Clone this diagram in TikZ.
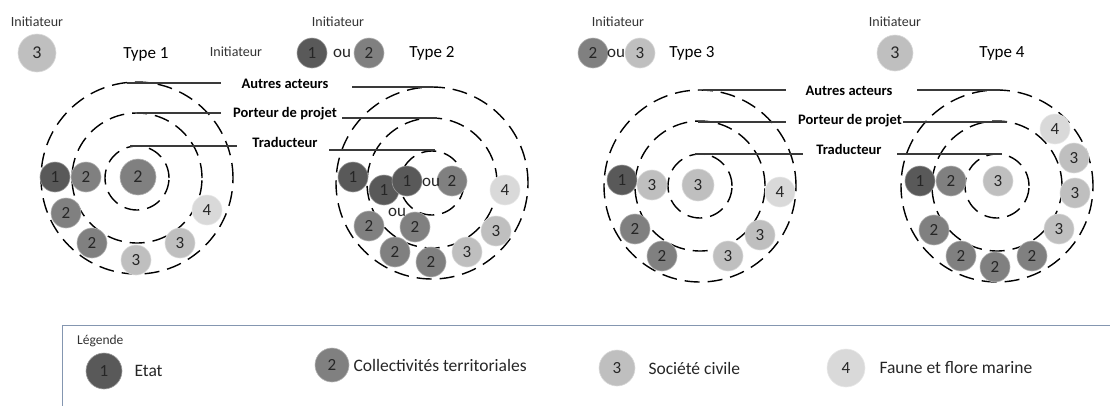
\documentclass[tikz,border=0pt]{standalone}
\usepackage{fontspec}
\setmainfont{Carlito}
\usepackage{tikz}
\usetikzlibrary{positioning}
\definecolor{actFill1}{HTML}{595959}
\definecolor{actFill2}{HTML}{808080}
\definecolor{actFill3}{HTML}{BFBFBF}
\definecolor{actFill4}{HTML}{D9D9D9}
\definecolor{roleGray}{HTML}{3A3A3A}
\definecolor{legendFrame}{HTML}{8496B0}
\tikzset{
  actor/.style={
    circle,
    fill=actFill#1,
    draw=actFill#1!60!white,
    line width=0.6pt,
    minimum size=30pt,
    inner sep=0pt,
    font=\fontsize{17}{17}\selectfont,
    text=black!85
  },
  ringLine/.style={black, line width=1.4pt, dash pattern=on 15pt off 8pt},
  roleLine/.style={roleGray, line width=1.2pt},
  roleLabel/.style={font=\bfseries\fontsize{14.5}{15}\selectfont, inner sep=0pt},
  typeLabel/.style={font=\fontsize{17}{18}\selectfont, inner sep=0pt},
  initLabel/.style={font=\fontsize{14}{15}\selectfont, text=black!80, inner sep=0pt},
  orLabel/.style={font=\fontsize{17}{17}\selectfont, text=black!85, inner sep=0pt},
  legendText/.style={font=\fontsize{17.5}{18}\selectfont, text=black!85, inner sep=0pt}
}

\begin{document}
\begin{tikzpicture}[x=1pt,y=-1pt]
  \useasboundingbox (0,0) rectangle (1110,405);
  \coordinate (ring1) at (137,178);
  \coordinate (ring2) at (432,183);
  \coordinate (ring3) at (700,186);
  \coordinate (ring4) at (997,186);
  \foreach \c in {ring1,ring2,ring3,ring4} {
    \foreach \r in {32,65,96} {
      \draw[ringLine] (\c) circle (\r pt);
    }
  }
  \node[initLabel] (init1) at (37,22) {Initiateur};
  \node[actor=3, minimum size=38pt, font=\fontsize{18}{18}\selectfont] (ini1) at (37,53) {3};
  \node[typeLabel] (type1) at (146,54) {Type 1};
  \node[initLabel] (init2b) at (236,52) {Initiateur};
  \node[initLabel] (init2) at (338,22) {Initiateur};
  \node[actor=1] (ini2a) at (312,53) {1};
  \node[orLabel] (ini2o) at (342,53) {ou};
  \node[actor=2] (ini2b) at (369,53) {2};
  \node[typeLabel] (type2) at (432,53) {Type 2};
  \node[initLabel] (init3) at (618,22) {Initiateur};
  \node[actor=2] (ini3a) at (593,53) {2};
  \node[orLabel] (ini3o) at (616,53) {ou};
  \node[actor=3] (ini3b) at (640,53) {3};
  \node[typeLabel] (type3) at (692,53) {Type 3};
  \node[initLabel] (init4) at (895,22) {Initiateur};
  \node[actor=3, minimum size=36pt, font=\fontsize{18}{18}\selectfont] (ini4) at (895,53) {3};
  \node[typeLabel] (type4) at (1002,53) {Type 4};

  \node[roleLabel] (autresA) at (285,84) {Autres acteurs};
  \node[roleLabel] (porteurA) at (285,114) {Porteur de projet};
  \node[roleLabel] (traducA) at (285,142) {Traducteur};
  \node[roleLabel] (autresB) at (849,91) {Autres acteurs};
  \node[roleLabel] (porteurB) at (850,121) {Porteur de projet};
  \node[roleLabel] (traducB) at (849,149) {Traducteur};

  \coordinate (t1a) at (127,83);  \coordinate (e1a) at (221,83);
  \coordinate (t1b) at (137,113); \coordinate (e1b) at (221,113);
  \coordinate (t1c) at (130,146); \coordinate (e1c) at (237,146);
  \coordinate (t2a) at (433,87);  \coordinate (e2a) at (352,87);
  \coordinate (t2b) at (437,118); \coordinate (e2b) at (342,118);
  \coordinate (t2c) at (435,150); \coordinate (e2c) at (329,150);
  \coordinate (t3a) at (703,90);  \coordinate (e3a) at (786,90);
  \coordinate (t3b) at (698,122); \coordinate (e3b) at (786,122);
  \coordinate (t3c) at (695,154); \coordinate (e3c) at (803,154);
  \coordinate (t4a) at (1000,90); \coordinate (e4a) at (917,90);
  \coordinate (t4b) at (1007,122); \coordinate (e4b) at (903,122);
  \coordinate (t4c) at (1002,154); \coordinate (e4c) at (897,154);
  \foreach \d in {1,2,3,4} {
    \foreach \l in {a,b,c} {
      \draw[roleLine] (t\d\l) -- (e\d\l);
    }
  }

  \foreach \px/\py/\k [count=\i] in {55/177/1,86/177/2,66/213/2,92/243/2,
      136/260/3,180/243/3,207/210/4} {
    \node[actor=\k] (dA\i) at (\px,\py) {\k};
  }
  \node[actor=2, minimum size=36pt, font=\fontsize{18}{18}\selectfont] (dAc) at (138,177) {2};

  \foreach \px/\py/\k [count=\i] in {353/177/1,384/190/1,407/181/1,452/181/2,
      369/226/2,415/227/2,395/252/2,431/262/2,467/252/3,496/231/3,505/190/4} {
    \node[actor=\k] (dB\i) at (\px,\py) {\k};
  }
  \node[orLabel] (orB1) at (431,182) {ou};
  \node[orLabel] (orB2) at (397,212) {ou};

  \foreach \px/\py/\k [count=\i] in {622/180/1,652/185/3,780/192/4,635/229/2,
      662/256/2,728/256/3,760/235/3} {
    \node[actor=\k] (dC\i) at (\px,\py) {\k};
  }
  \node[actor=3, minimum size=32pt] (dCc) at (698,185) {3};

  \foreach \px/\py/\k [count=\i] in {920/181/1,951/181/2,1055/129/4,1074/158/3,
      1075/193/3,1059/229/3,934/230/2,961/256/2,995/267/2,1032/256/2} {
    \node[actor=\k] (dD\i) at (\px,\py) {\k};
  }
  \node[actor=3] (dDc) at (998,181) {3};

  \draw[legendFrame, line width=1pt] (62,410) -- (62,325) -- (1120,325);
  \node[initLabel, font=\fontsize{13.5}{14}\selectfont, anchor=west] (legTitle) at (77,341) {Légende};
  \node[actor=1, minimum size=36pt] (leg1) at (104,371) {1};
  \node[legendText, right=12pt of leg1] (legTxt1) {Etat};
  \node[actor=2, minimum size=34pt] (leg2) at (332,365) {2};
  \node[legendText, right=4pt of leg2] (legTxt2) {Collectivités territoriales};
  \node[actor=3, minimum size=36pt] (leg3) at (617,368) {3};
  \node[legendText, right=13pt of leg3] (legTxt3) {Société civile};
  \node[actor=4, minimum size=38pt] (leg4) at (846,368) {4};
  \node[legendText, right=14pt of leg4] (legTxt4) {Faune et flore marine};
\end{tikzpicture}
\end{document}
